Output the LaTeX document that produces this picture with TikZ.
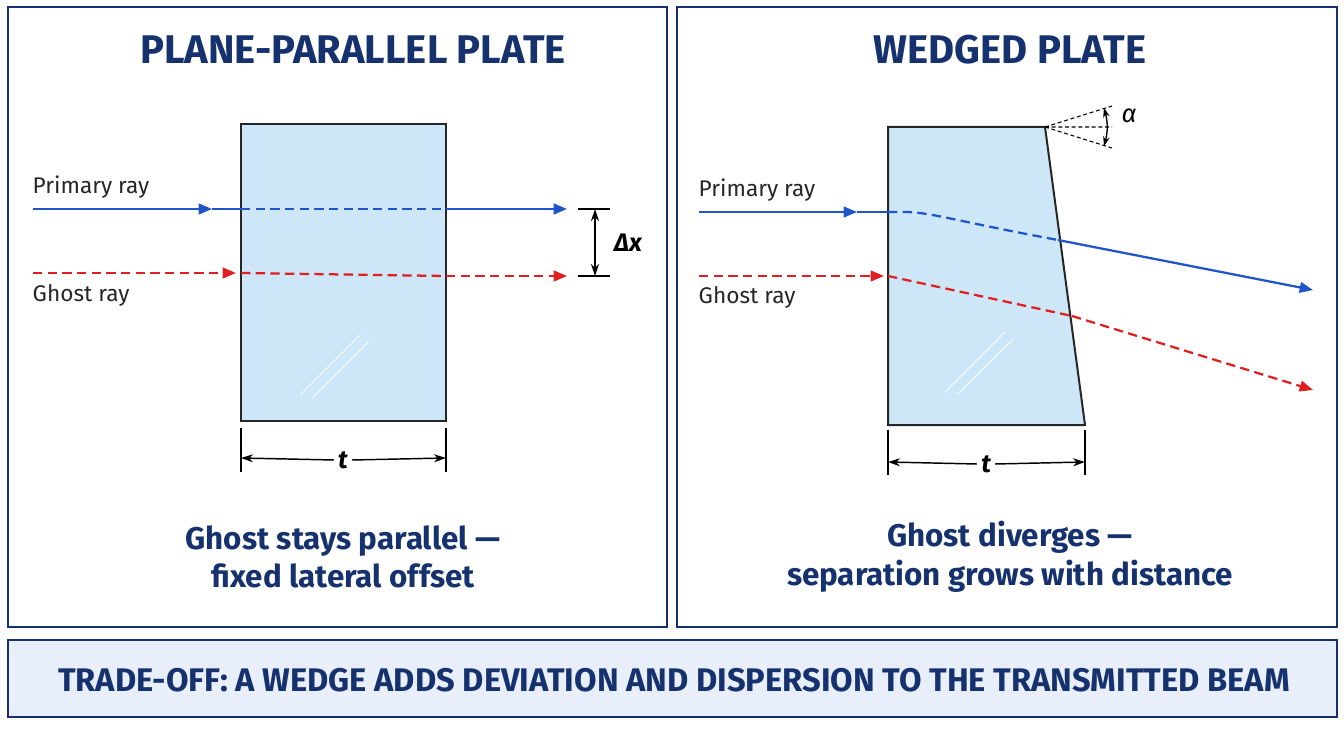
\documentclass[tikz,border=0pt]{standalone}
\usepackage{fontspec}
\setmainfont{Fira Sans}
\usetikzlibrary{arrows.meta}
\definecolor{navy}{HTML}{16326E}
\definecolor{glass}{HTML}{CDE7F8}
\definecolor{bblue}{HTML}{1F55C8}
\definecolor{rred}{HTML}{E02020}
\definecolor{band}{HTML}{E9EFFA}
\begin{document}
\begin{tikzpicture}[x=0.75pt,y=-0.75pt,
  panel/.style={draw=navy,line width=1.3pt},
  plate/.style={draw=black!85,fill=glass,line width=1.5pt},
  title/.style={font=\bfseries\fontsize{30}{34}\selectfont,text=navy},
  captxt/.style={font=\bfseries\fontsize{23.5}{29}\selectfont,text=navy,align=center},
  lab/.style={font=\fontsize{17}{20}\selectfont,anchor=west,text=black!85},
  prim/.style={bblue,line width=1.7pt},
  ghost/.style={rred,line width=1.7pt,dash pattern=on 7pt off 4pt},
  tip/.style={-{Triangle[length=10pt,width=8pt]}},
  dim/.style={black,line width=1.1pt,{Stealth[length=9pt,width=6pt]}-{Stealth[length=9pt,width=6pt]}},
  dimone/.style={black,line width=1.1pt,-{Stealth[length=9pt,width=6pt]}},
  tick/.style={black,line width=1pt}]
\useasboundingbox (0,0) rectangle (1344,752);
\fill[white] (0,0) rectangle (1344,752);
\draw[panel] (8,7) rectangle (667,627);
\draw[panel] (677,7) rectangle (1337,627);
\draw[panel,fill=band] (8,640) rectangle (1337,717);
\node[title] (t1) at (353,50) {PLANE-PARALLEL PLATE};
\node[title] (t2) at (1010,50) {WEDGED PLATE};
\node[font=\bfseries\fontsize{24.5}{28}\selectfont,text=navy] (bn) at (674,680) {TRADE-OFF: A WEDGE ADDS DEVIATION AND DISPERSION TO THE TRANSMITTED BEAM};
% left plate
\draw[plate] (241,124) rectangle (446,421);
\draw[white,opacity=0.8,line width=0.8pt] (300,395)--(360,335) (312,398)--(368,342);
\coordinate (pa) at (33,209); \coordinate (pb) at (241,209); \coordinate (pc) at (446,209); \coordinate (pd) at (567,209);
\draw[prim,tip] (pa)--(212,209); \draw[prim] (212,209)--(pb);
\draw[prim,dash pattern=on 7pt off 4pt] (pb)--(pc);
\draw[prim,tip] (pc)--(pd);
\coordinate (ga) at (33,273); \coordinate (gb) at (241,273); \coordinate (gc) at (446,276); \coordinate (gd) at (567,276);
\draw[ghost,tip] (ga)--(236,273); \draw[ghost] (gb)--(gc); \draw[ghost,tip] (gc)--(gd);
\node[lab] (l1) at (28,187) {Primary ray};
\node[lab] (l2) at (28,295) {Ghost ray};
\draw[tick] (578,209)--(610,209) (578,276)--(610,276);
\draw[dim] (595,209)--(595,276);
\node[font=\bfseries\itshape\fontsize{19}{22}\selectfont] (dx) at (628,243) {Δx};
\draw[tick] (241,428)--(241,472) (446,428)--(446,472);
\node[font=\bfseries\itshape\fontsize{19}{22}\selectfont,inner sep=3pt] (tl) at (343,460) {t};
\draw[dimone] (tl.west)--(241,458); \draw[dimone] (tl.east)--(446,458);
\node[captxt] (c1) at (343,557) {Ghost stays parallel —\\fixed lateral offset};
% right plate
\draw[plate] (888,127)--(1045,127)--(1085,425)--(888,425)--cycle;
\draw[white,opacity=0.8,line width=0.8pt] (945,392)--(1005,332) (957,395)--(1013,339);
\coordinate (qa) at (699,212); \coordinate (qb) at (888,212); \coordinate (qc) at (1058,240); \coordinate (qd) at (1313,290);
\draw[prim,tip] (qa)--(857,212); \draw[prim] (857,212)--(qb);
\draw[prim,dash pattern=on 7pt off 4pt] (qb)--(905,212) .. controls (930,212) and (960,222) .. (qc);
\draw[prim,tip] (qc)--(qd);
\coordinate (ha) at (699,276); \coordinate (hb) at (888,276); \coordinate (hc) at (1072,316); \coordinate (hd) at (1313,390);
\draw[ghost,tip] (ha)--(884,276); \draw[ghost] (hb)--(hc); \draw[ghost,tip] (hc)--(hd);
\node[lab] (l3) at (694,190) {Primary ray};
\node[lab] (l4) at (694,297) {Ghost ray};
\coordinate (apex) at (1045,127);
\draw[black,line width=0.8pt,dash pattern=on 3pt off 2pt] (apex)--(1112,106) (apex)--(1112,148) (apex)--(1112,127);
\draw[black,line width=1pt,{Stealth[length=7pt,width=5pt]}-{Stealth[length=7pt,width=5pt]}] (1104,108) to[bend left=15] (1104,146);
\node[font=\itshape\fontsize{19}{22}\selectfont] (al) at (1129,116) {α};
\draw[tick] (888,430)--(888,475) (1085,430)--(1085,475);
\node[font=\bfseries\itshape\fontsize{19}{22}\selectfont,inner sep=3pt] (tr) at (986,464) {t};
\draw[dimone] (tr.west)--(888,462); \draw[dimone] (tr.east)--(1085,462);
\node[captxt] (c2) at (1010,557) {Ghost diverges —\\separation grows with distance};
\end{tikzpicture}
\end{document}
